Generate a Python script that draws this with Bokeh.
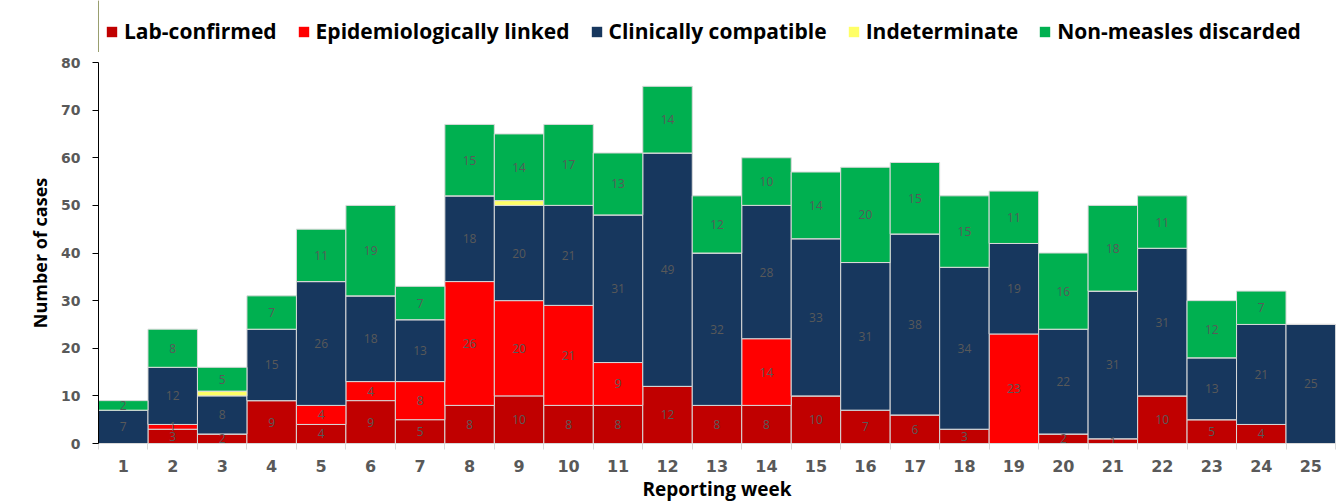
from bokeh.plotting import figure
from bokeh.layouts import column
from bokeh.models import ColumnDataSource, FixedTicker, Legend, LegendItem, Range1d
from bokeh.embed import file_html
from bokeh.resources import INLINE
from bokeh.core.properties import value

weeks = list(range(1, 26))
lab_confirmed = [0, 3, 2, 9, 4, 9, 5, 8, 10, 8, 8, 12, 8, 8, 10, 7, 6, 3, 0, 2, 1, 10, 5, 4, 0]
epi_linked    = [0, 1, 0, 0, 4, 4, 8, 26, 20, 21, 9, 0, 0, 14, 0, 0, 0, 0, 23, 0, 0, 0, 0, 0, 0]
clin_compat   = [7, 12, 8, 15, 26, 18, 13, 18, 20, 21, 31, 49, 32, 28, 33, 31, 38, 34, 19, 22, 31, 31, 13, 21, 25]
indeterminate = [0, 0, 1, 0, 0, 0, 0, 0, 1, 0, 0, 0, 0, 0, 0, 0, 0, 0, 0, 0, 0, 0, 0, 0, 0]
non_measles   = [2, 8, 5, 7, 11, 19, 7, 15, 14, 17, 13, 14, 12, 10, 14, 20, 15, 15, 11, 16, 18, 11, 12, 7, 0]

series_names = ["Lab-confirmed", "Epidemiologically linked", "Clinically compatible",
                "Indeterminate", "Non-measles discarded"]
keys = ["lab", "epi", "clin", "ind", "non"]
colors = ["#C00000", "#FF0000", "#17375E", "#FFFF66", "#00B050"]
y_ticks = [0, 10, 20, 30, 40, 50, 60, 70, 80]

FONT = "Open Sans"
LEG_H = 52

data = dict(week=weeks, lab=lab_confirmed, epi=epi_linked, clin=clin_compat,
            ind=indeterminate, non=non_measles)
src = ColumnDataSource(data)

p = figure(width=1336, height=504 - LEG_H, output_backend="svg", toolbar_location=None,
           x_range=Range1d(0.5, 25.5), y_range=Range1d(0, 80),
           min_border_left=98, min_border_right=1, min_border_top=10, min_border_bottom=59)
p.outline_line_color = None
p.xgrid.grid_line_color = None
p.ygrid.grid_line_color = None

renderers = p.vbar_stack(keys, x="week", width=1.0, source=src, color=colors,
                         line_color="#d9d9d9", line_width=1)

# data labels
lx, ly, lt = [], [], []
series_vals = [lab_confirmed, epi_linked, clin_compat, indeterminate, non_measles]
for i, w in enumerate(weeks):
    base = 0
    for k, vals in enumerate(series_vals):
        v = vals[i]
        if v > 0 and k != 3:
            lx.append(w)
            ly.append(base + v / 2)
            lt.append(str(v))
        base += v
lsrc = ColumnDataSource(dict(x=lx, y=ly, t=lt))
p.text(x="x", y="y", text="t", source=lsrc, text_align="center", text_baseline="middle",
       text_font=value(FONT), text_font_size="12px", text_color="#595959")

# axes
p.yaxis.ticker = FixedTicker(ticks=y_ticks)
p.yaxis.axis_line_color = "#000000"
p.yaxis.major_tick_line_color = "#000000"
p.yaxis.major_tick_out = 6
p.yaxis.major_tick_in = 0
p.yaxis.minor_tick_line_color = None
p.yaxis.major_label_text_font = "DejaVu Sans"
p.yaxis.major_label_text_font_style = "bold"
p.yaxis.major_label_text_font_size = "14px"
p.yaxis.major_label_text_color = "#595959"
p.yaxis.major_label_standoff = 12
p.yaxis.axis_label = "Number of cases"
p.yaxis.axis_label_text_font = FONT
p.yaxis.axis_label_text_font_style = "bold"
p.yaxis.axis_label_text_font_size = "18px"
p.yaxis.axis_label_text_color = "#000000"
p.yaxis.axis_label_standoff = 6

p.xaxis.ticker = FixedTicker(ticks=weeks, minor_ticks=[w - 0.5 for w in weeks] + [25.5])
p.xaxis.axis_line_color = "#d9d9d9"
p.xaxis.major_tick_line_color = None
p.xaxis.minor_tick_line_color = "#d9d9d9"
p.xaxis.minor_tick_out = 6
p.xaxis.minor_tick_in = 0
p.xaxis.major_label_text_font = "DejaVu Sans"
p.xaxis.major_label_text_font_style = "bold"
p.xaxis.major_label_text_font_size = "16px"
p.xaxis.major_label_text_color = "#595959"
p.xaxis.major_label_standoff = 10
p.xaxis.axis_label = "Reporting week"
p.xaxis.axis_label_text_font = FONT
p.xaxis.axis_label_text_font_style = "bold"
p.xaxis.axis_label_text_font_size = "19px"
p.xaxis.axis_label_text_color = "#000000"
p.xaxis.axis_label_standoff = 1

# legend strip above the chart (frame aligns with the chart frame)
lg = figure(width=1336, height=LEG_H, output_backend="svg", toolbar_location=None,
            x_range=Range1d(0, 1), y_range=Range1d(0, 1),
            x_axis_type=None, y_axis_type=None,
            min_border_left=0, min_border_right=0, min_border_top=0, min_border_bottom=0)
lg.outline_line_color = None
lg.xgrid.grid_line_color = None
lg.ygrid.grid_line_color = None
dummies = [lg.vbar(x=[-10], top=[1], width=1, fill_color=c, line_color=None) for c in colors]
items = [LegendItem(label=n, renderers=[r]) for n, r in zip(series_names, dummies)]
legend = Legend(items=items, orientation="horizontal", location=(7, 7),
                label_text_font=FONT, label_text_font_style="bold", label_text_font_size="21px",
                label_text_color="#000000", glyph_width=13, glyph_height=13,
                label_standoff=6, spacing=20, padding=0, margin=0,
                border_line_color=None, background_fill_alpha=0)
lg.add_layout(legend)

layout = column(lg, p, spacing=0)
open("out.html", "w").write(file_html(layout, INLINE))
